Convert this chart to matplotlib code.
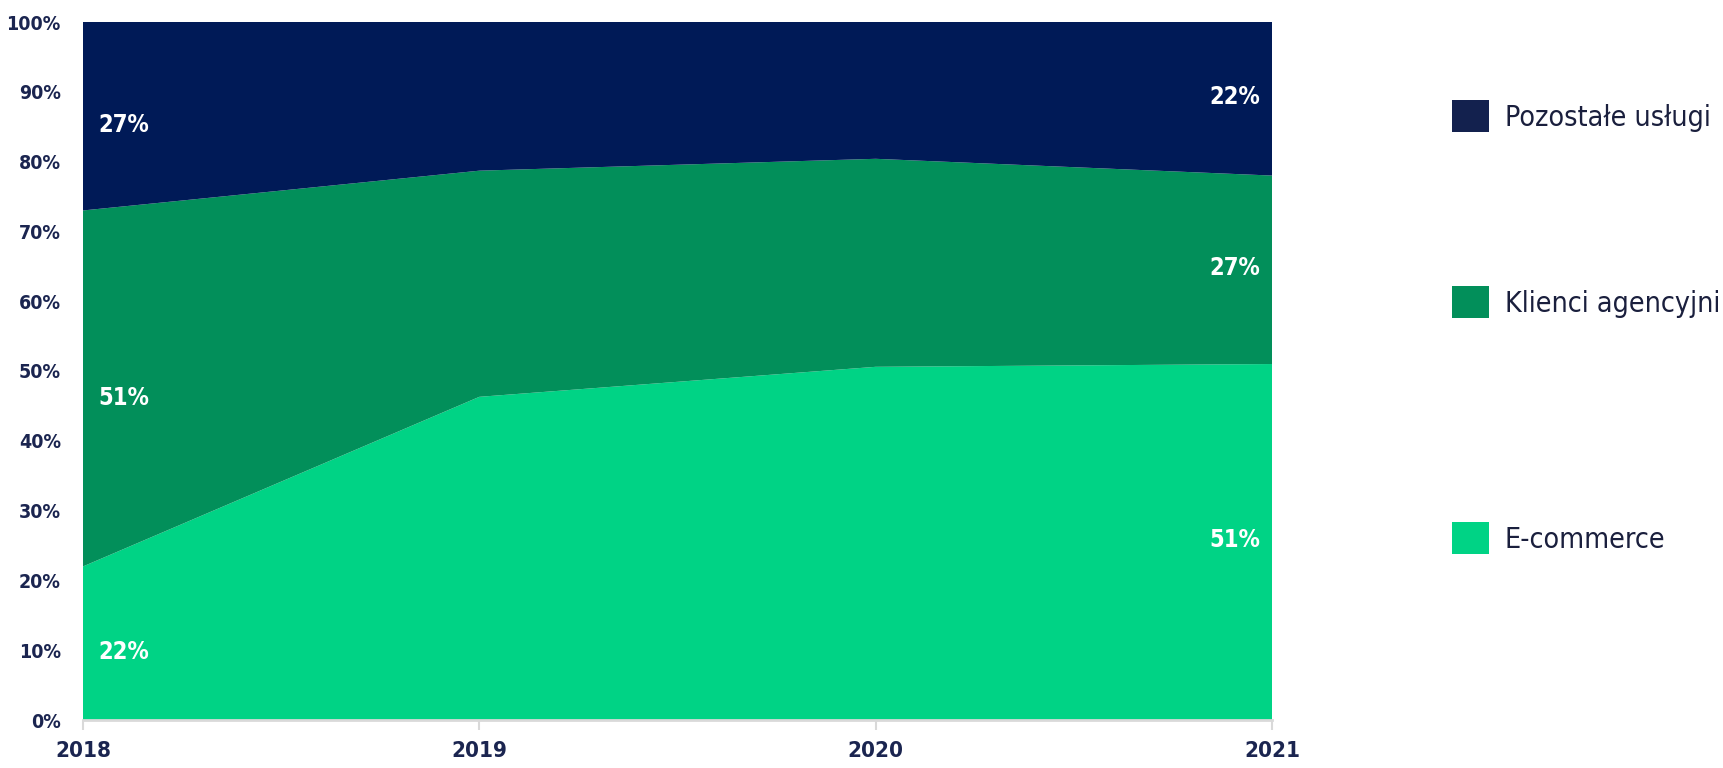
import matplotlib
matplotlib.use('Agg')
import matplotlib.pyplot as plt
from matplotlib.patches import Patch

# dane (udział w przychodach, %)
years = [2018, 2019, 2020, 2021]
ecommerce = [22, 46.3, 50.6, 51]
klienci = [51, 32.4, 29.8, 27]
pozostale = [27, 21.3, 19.6, 22]
series_names = ['E-commerce', 'Klienci agencyjni', 'Pozostałe usługi']
ytick_vals = list(range(0, 101, 10))

col_ecom = '#00d385'
col_klienci = '#028f5a'
col_poz = '#001a57'
legend_cols = ['#00d385', '#028f5a', '#13214e']
txt_col = '#1b2550'

plt.rcParams['font.family'] = 'DejaVu Sans'
plt.rcParams['font.stretch'] = 'condensed'

fig = plt.figure(figsize=(17.23, 7.68), dpi=100)
ax = fig.add_axes([83 / 1723, 48 / 768, 1189 / 1723, 698 / 768])

ax.stackplot(years, ecommerce, klienci, pozostale,
             colors=[col_ecom, col_klienci, col_poz], linewidth=0)

ax.set_xlim(years[0], years[-1])
ax.set_ylim(0, 100)
ax.set_xticks(years)
ax.set_xticklabels([str(y) for y in years], fontsize=16, fontweight='bold',
                   color=txt_col, fontstretch='condensed')
ax.set_yticks(ytick_vals)
ax.set_yticklabels([f'{v}%' for v in ytick_vals], fontsize=14, fontweight='bold',
                   color=txt_col, fontstretch='condensed')
ax.tick_params(axis='y', length=0, pad=16)
ax.tick_params(axis='x', length=7, width=1.5, color='#d9d9d9', pad=8)
for s in ['top', 'right', 'left']:
    ax.spines[s].set_visible(False)
ax.spines['bottom'].set_color('#d9d9d9')
ax.spines['bottom'].set_linewidth(2)

# etykiety wartości (środek każdego pasma)
stack = [ecommerce, klienci, pozostale]
for idx, ha, off, dy in [(0, 'left', 0.04, -1.3), (-1, 'right', -0.03, 0.3)]:
    base = 0
    for s in stack:
        v = s[idx]
        ax.text(years[idx] + off, base + v / 2 + dy, f'{round(v)}%', ha=ha, va='center',
                color='white', fontsize=17, fontweight='bold', fontstretch='condensed')
        base += v

# legenda - każdy wpis osobno
leg_y = [538, 302, 116]
for name, c, y in zip(series_names, legend_cols, leg_y):
    fig.legend(handles=[Patch(facecolor=c, edgecolor='none')], labels=[name],
               loc='center left', bbox_to_anchor=(1452 / 1723, 1 - y / 768),
               frameon=False, handlelength=1.3, handleheight=1.3,
               handletextpad=0.55, borderpad=0, borderaxespad=0,
               prop={'family': 'DejaVu Sans', 'stretch': 'condensed', 'size': 20.5},
               labelcolor='#1a1f3d')

fig.savefig('out.png', dpi=100)
